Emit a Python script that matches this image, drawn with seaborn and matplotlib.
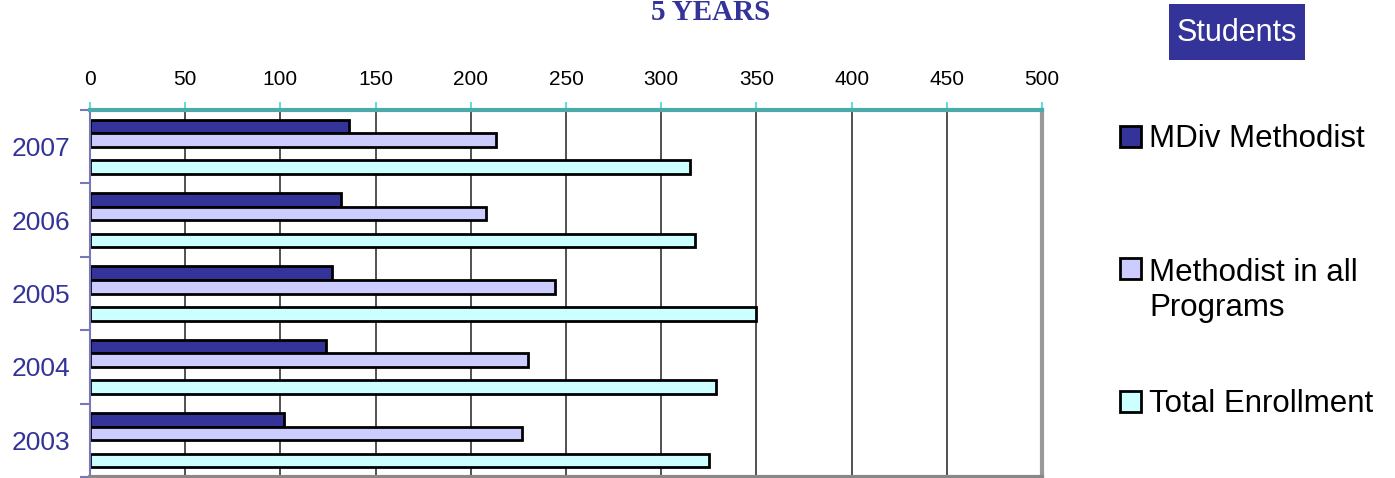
import matplotlib
matplotlib.use('Agg')
import matplotlib.pyplot as plt
from matplotlib.patches import Rectangle
import pandas as pd
import seaborn as sns

# valores
years = ['2007', '2006', '2005', '2004', '2003']
mdiv_methodist = [136, 132, 127, 124, 102]
methodist_all = [213, 208, 244, 230, 227]
total_enrollment = [315, 318, 350, 329, 325]
x_ticks = [0, 50, 100, 150, 200, 250, 300, 350, 400, 450, 500]

series = ['MDiv Methodist', 'Methodist in all Programs', 'Total Enrollment']
legend_labels = ['MDiv Methodist', 'Methodist in all\nPrograms', 'Total Enrollment']
colors = ['#333399', '#CCCCFF', '#CCFFFF']
navy = '#333399'

rows = []
for i in range(len(years)):
    rows.append([years[i], series[0], mdiv_methodist[i]])
    rows.append([years[i], series[1], methodist_all[i]])
    rows.append([years[i], series[2], total_enrollment[i]])
data = pd.DataFrame(rows, columns=['Year', 'Serie', 'Students'])

sns.set_style('white')
plt.rcParams['font.family'] = ['Liberation Sans', 'DejaVu Sans']

fig = plt.figure(figsize=(13.95, 4.78), dpi=100)
ax = fig.add_axes([90/1395, 1 - 477/478, (1042-90)/1395, (477-110)/478])

# uma serie vazia reserva o espaco entre a segunda e a terceira barra
hue_order = [series[0], series[1], '', series[2]]
palette = {series[0]: colors[0], series[1]: colors[1], '': 'white', series[2]: colors[2]}
sns.barplot(data=data, y='Year', x='Students', hue='Serie', order=years,
            hue_order=hue_order, palette=palette, orient='h', width=0.74,
            edgecolor='black', linewidth=2, saturation=1, legend=False, ax=ax)

ax.set_xlim(0, 500)
ax.set_ylim(len(years) - 0.5, -0.5)
ax.set_xticks(x_ticks)
ax.xaxis.tick_top()
ax.set_xlabel('')
ax.set_ylabel('')
ax.grid(axis='x', color='#333333', linewidth=1.2)
ax.grid(axis='y', visible=False)
ax.set_axisbelow(True)

ax.tick_params(axis='x', top=True, length=6, width=1.5, color='#66DDDD',
               labelsize=15, labelcolor='black', pad=9)
ax.tick_params(axis='y', which='major', left=False, length=0,
               labelsize=19, labelcolor=navy, pad=14)
ax.set_yticks([i - 0.5 for i in range(len(years) + 1)], minor=True)
ax.tick_params(axis='y', which='minor', left=True, length=7, width=1.5, color='#7777BB')

ax.spines['top'].set_color('#4DAAAA')
ax.spines['top'].set_linewidth(3)
ax.spines['right'].set_color('#999999')
ax.spines['right'].set_linewidth(3)
ax.spines['bottom'].set_color('#888888')
ax.spines['bottom'].set_linewidth(3)
ax.spines['left'].set_color('#7777BB')
ax.spines['left'].set_linewidth(1.5)

# titulo (quase cortado no topo da imagem original)
fig.text(711/1395, 1 - 20/478, '5 YEARS', family='Liberation Serif', weight='bold',
         fontsize=21, color=navy, ha='center', va='baseline')

# caixa "Students"
fig.patches.append(Rectangle((1169/1395, 1 - 60/478), 136/1395, 56/478,
                             transform=fig.transFigure, facecolor=navy, edgecolor='none'))
fig.text(1237/1395, 1 - 33/478, 'Students', fontsize=22, color='white',
         ha='center', va='center')

# legenda manual
marker_tops = [126, 258, 391]
baselines = [147, 316, 412]
for i in range(3):
    fig.patches.append(Rectangle((1120/1395, 1 - (marker_tops[i] + 21)/478), 21/1395, 21/478,
                                 transform=fig.transFigure, facecolor=colors[i],
                                 edgecolor='black', linewidth=2))
    fig.text(1149/1395, 1 - baselines[i]/478, legend_labels[i], fontsize=22.5,
             color='black', ha='left', va='baseline', linespacing=1.2)

fig.savefig('out.png', dpi=100)
